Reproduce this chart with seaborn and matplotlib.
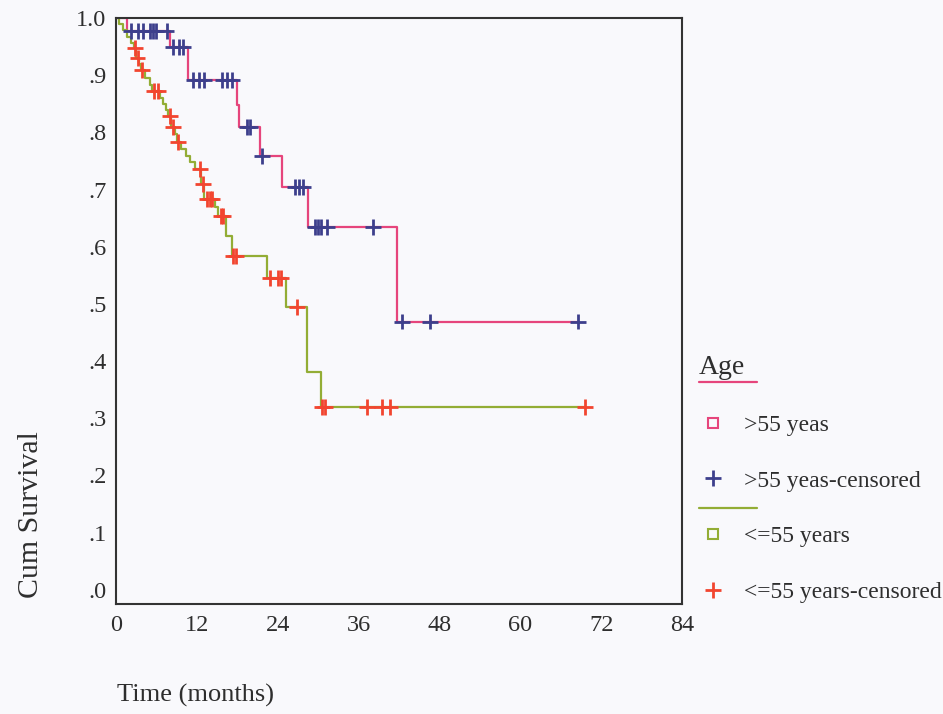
import numpy as np
import pandas as pd
import matplotlib
matplotlib.use("Agg")
import matplotlib.pyplot as plt
import seaborn as sns
from matplotlib.lines import Line2D
from matplotlib.legend_handler import HandlerLine2D
from matplotlib.ticker import FuncFormatter

# ---------------- data ----------------
groups = [">55 yeas", "<=55 years"]
legend_labels = [">55 yeas", ">55 yeas-censored", "<=55 years", "<=55 years-censored"]

old_event_t = [1.7, 8.0, 10.7, 18.0, 18.3, 21.4, 24.6, 28.5, 41.7]
old_event_s = [0.977, 0.949, 0.891, 0.848, 0.809, 0.759, 0.704, 0.634, 0.469]
old_cens_t = [2.2, 3.2, 4.0, 5.0, 5.5, 6.0, 7.5, 8.5, 9.3, 10.0, 11.5, 12.3, 13.0,
              15.8, 16.5, 17.2, 19.4, 19.9, 21.7, 26.6, 27.2, 27.8, 29.5, 30.0,
              30.4, 31.3, 38.1, 42.4, 46.6, 68.6]

young_event_t = [0.45, 1.0, 1.6, 2.2, 2.65, 3.0, 3.45, 3.75, 4.3, 5.05, 5.35, 6.55,
                 7.0, 7.4, 7.7, 8.2, 8.75, 9.05, 9.65, 10.4, 11.0, 11.7, 12.6, 13.05,
                 14.7, 15.15, 16.3, 17.2, 22.4, 25.2, 28.35, 30.4]
young_event_s = [0.989, 0.979, 0.967, 0.956, 0.947, 0.930, 0.919, 0.909, 0.895, 0.882,
                 0.872, 0.860, 0.849, 0.839, 0.828, 0.809, 0.797, 0.783, 0.771, 0.758,
                 0.748, 0.736, 0.709, 0.683, 0.669, 0.653, 0.618, 0.583, 0.545, 0.494,
                 0.380, 0.320]
young_cens_t = [2.8, 3.2, 3.9, 5.65, 6.2, 8.0, 8.4, 9.2, 12.45, 12.85, 13.5, 13.95,
                14.3, 15.6, 15.95, 17.4, 17.8, 22.9, 24.0, 24.5, 26.9, 30.6, 31.0,
                37.3, 39.5, 40.7, 69.6]

x_ticks = [0, 12, 24, 36, 48, 60, 72, 84]
y_ticks = [0.0, 0.1, 0.2, 0.3, 0.4, 0.5, 0.6, 0.7, 0.8, 0.9, 1.0]

line_colors = {groups[0]: "#e6457c", groups[1]: "#93ad35"}
cens_colors = {groups[0]: "#3d3f8c", groups[1]: "#f2452f"}


def curve(event_t, event_s, cens_t, name):
    t = [0.0] + list(event_t) + [max(cens_t)]
    s = [1.0] + list(event_s) + [event_s[-1]]
    return pd.DataFrame({"time": t, "surv": s, "group": name})


def censor_points(event_t, event_s, cens_t, name):
    idx = np.searchsorted(np.array(event_t), np.array(cens_t), side="right")
    s_all = np.concatenate([[1.0], event_s])
    return pd.DataFrame({"time": cens_t, "surv": s_all[idx], "group": name})


lines_df = pd.concat([curve(old_event_t, old_event_s, old_cens_t, groups[0]),
                      curve(young_event_t, young_event_s, young_cens_t, groups[1])],
                     ignore_index=True)
cens_df = pd.concat([censor_points(old_event_t, old_event_s, old_cens_t, groups[0]),
                     censor_points(young_event_t, young_event_s, young_cens_t, groups[1])],
                    ignore_index=True)

# ---------------- style ----------------
sns.set_style("white")
plt.rcParams["font.family"] = ["Liberation Serif", "DejaVu Serif"]
bg = "#f9f9fc"
txt = "#2e2e2e"

fig = plt.figure(figsize=(9.43, 7.14), dpi=100, facecolor=bg)
ax = fig.add_axes([116 / 943, 1 - 604 / 714, 566 / 943, 586 / 714])
ax.set_facecolor(bg)

sns.lineplot(data=lines_df, x="time", y="surv", hue="group", palette=line_colors,
             estimator=None, sort=False, drawstyle="steps-post", linewidth=1.6,
             legend=False, ax=ax, zorder=2)
sns.scatterplot(data=cens_df, x="time", y="surv", hue="group", palette=cens_colors,
                marker="+", s=130, linewidth=2.0, legend=False, ax=ax, zorder=3)

ax.set_xlim(0, 84)
ax.set_ylim(-0.025, 1.0)
ax.set_xticks(x_ticks)
ax.set_yticks(y_ticks)
ax.yaxis.set_major_formatter(FuncFormatter(lambda v, p: f"{v:.1f}".lstrip("0") if v < 1 else f"{v:.1f}"))
ax.tick_params(axis="both", direction="out", length=5, width=1.4, colors="#333333",
               labelsize=17.5, labelcolor=txt)
ax.tick_params(axis="y", pad=2)
ax.tick_params(axis="x", pad=3)
for sp in ax.spines.values():
    sp.set_visible(True)
    sp.set_color("#333333")
    sp.set_linewidth(1.5)

ax.set_xlabel("Time (months)", fontsize=19, color=txt)
ax.set_ylabel("Cum Survival", fontsize=21.5, color=txt)
ax.xaxis.set_label_coords(0.14, -0.137)
ax.yaxis.set_label_coords(-0.128, 0.152)


# ---------------- legend ----------------
class SquareWithLine(HandlerLine2D):
    def __init__(self, line_color, offset, **kw):
        super().__init__(**kw)
        self.line_color = line_color
        self.offset = offset

    def create_artists(self, legend, orig_handle, xdescent, ydescent, width, height,
                       fontsize, trans):
        arts = super().create_artists(legend, orig_handle, xdescent, ydescent, width,
                                      height, fontsize, trans)
        y = (height - ydescent) / 2 + self.offset
        ln = Line2D([-xdescent, -xdescent + 2.05 * width], [y, y],
                    color=self.line_color, linewidth=1.6)
        ln.set_transform(trans)
        return list(arts) + [ln]


h_sq1 = Line2D([], [], linestyle="none", marker="s", markersize=6.5,
               markerfacecolor="none", markeredgecolor=line_colors[groups[0]], markeredgewidth=1.5)
h_pl1 = Line2D([], [], linestyle="none", marker="+", markersize=11,
               markeredgecolor=cens_colors[groups[0]], markeredgewidth=2)
h_sq2 = Line2D([], [], linestyle="none", marker="s", markersize=6.5,
               markerfacecolor="none", markeredgecolor=line_colors[groups[1]], markeredgewidth=1.5)
h_pl2 = Line2D([], [], linestyle="none", marker="+", markersize=11,
               markeredgecolor=cens_colors[groups[1]], markeredgewidth=2)

leg = fig.legend([h_sq1, h_pl1, h_sq2, h_pl2], legend_labels,
                 handler_map={h_sq1: SquareWithLine(line_colors[groups[0]], 29),
                              h_sq2: SquareWithLine(line_colors[groups[1]], 19)},
                 loc="upper left", bbox_to_anchor=(699 / 943, 1 - 355 / 714),
                 frameon=False, fontsize=17, title="Age", title_fontsize=20,
                 alignment="left", handlelength=1.2, handletextpad=0.7,
                 labelspacing=1.45, borderpad=0, borderaxespad=0, handleheight=0.7)
for t in leg.get_texts():
    t.set_color(txt)
leg.get_title().set_color(txt)

fig.savefig("out.png", dpi=100, facecolor=bg)
